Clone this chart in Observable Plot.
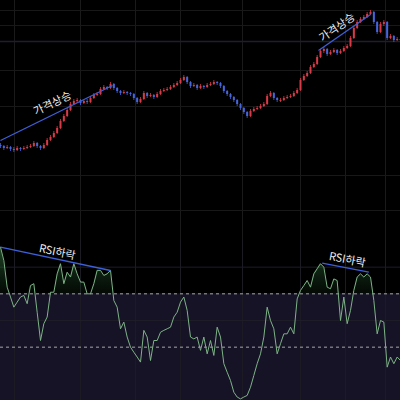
<!DOCTYPE html>
<html><head><meta charset="utf-8">
<script src="https://cdn.jsdelivr.net/npm/d3@7"></script>
<script src="https://cdn.jsdelivr.net/npm/@observablehq/plot@0.6"></script>
<style>
html,body{margin:0;padding:0;background:#000;}
#chart{width:400px;height:400px;overflow:hidden;background:#000}
#chart svg{display:block}
</style></head><body><div id="chart"></div>
<script>
// ---- price candles (bar index 0..120) ----
const openP  = [55,54,52,53,51,50,52,51,52,53,54,57,54,52,55,60,63,67,72,79,84,90,96,99,100,97,99,98,102,105,106,111,113,112,116,112,109,107,108,107,106,102,98,101,107,104,105,103,106,109,110,111,113,115,117,120,123,118,114,115,112,114,113,115,116,118,117,114,109,106,103,100,96,92,88,84,89,91,92,94,96,104,107,102,99,100,102,103,104,107,110,120,124,127,133,136,143,149,151,146,148,150,147,149,152,154,162,172,178,181,183,186,188,178,168,176,178,162,164,160,161];
const closeP = [54,52,53,51,50,52,51,52,53,54,57,54,52,55,60,63,67,72,79,84,90,96,99,100,97,99,98,102,105,106,111,113,112,116,112,109,107,108,107,106,102,98,101,107,104,105,103,106,109,110,111,113,115,117,120,123,118,114,115,112,114,113,115,116,118,117,114,109,106,103,100,96,92,88,84,89,91,92,94,96,104,107,102,100,100,102,103,104,107,110,120,124,127,133,136,143,149,151,146,148,150,147,149,152,154,162,172,178,181,183,186,188,178,168,176,178,162,164,160,161,160];
const highP  = [57,55,55,54,53,54,53,54,55,56,59,58,55,57,62,65,69,74,81,86,92,98,101,102,101,100,101,104,107,108,113,115,114,118,117,113,110,110,109,108,107,103,103,109,108,107,106,108,111,112,113,115,117,119,122,125,124,119,117,116,116,115,117,118,120,119,118,115,110,107,104,101,97,93,89,91,93,94,96,98,106,109,108,103,102,104,105,106,109,112,122,126,129,135,138,145,151,153,152,150,152,151,151,154,156,164,174,180,183,185,188,190,189,179,178,180,179,166,165,163,162];
const lowP   = [52,50,51,49,48,49,49,50,51,52,53,52,50,51,54,59,62,66,71,78,83,89,95,97,95,96,96,97,101,104,105,110,110,111,110,107,105,106,105,104,100,96,97,100,102,103,101,102,105,108,109,110,112,114,116,119,116,112,113,110,111,111,112,114,115,115,112,107,104,101,98,94,90,86,82,83,88,90,91,93,95,103,100,98,98,99,101,102,103,106,109,119,123,126,132,135,142,147,144,145,147,145,146,148,151,153,161,171,177,180,182,185,176,166,167,174,160,161,158,159,158];

// ---- RSI (bar index 0..120) ----
const rsiVals = [87.5,82.5,72.5,68.8,65,66.9,68.8,69.4,66.3,73.1,73.8,63.1,52.5,58.8,61.3,70.6,70.6,77.5,81.3,73.8,78.1,76.3,81.3,77.5,74.4,74.4,70,70,73.8,78.8,78.8,76.9,77.5,78.8,67.5,65,56.9,59.4,53.8,50,48.1,46.3,44.4,56.3,53.8,45,52.5,52.5,55.6,56.3,56.9,57.5,61.3,63.1,66.9,68.8,63.8,53.8,53.1,53.8,48.8,53.8,47.5,52.5,46.9,57.5,53.8,43.8,40.6,37.5,33.1,31.3,30.6,31.3,31.9,35,39.4,43.8,47.5,53.8,65,60,56.9,47.5,51.3,55,55,57.5,55,68.1,71.3,73.1,75,72.5,77.5,79.4,81.3,80,72.5,71.9,75.6,75,60,68.8,58.8,63.8,71.3,76.3,77.5,76.3,77.5,76.3,67.5,55,60,59.4,42.5,46.3,43.8,46.3,45];
const rsiLevels = [70, 50];
const rsiGridSolid = [80, 60];

// ---- grid ----
const gridX = [4.2, 24, 40.5, 54, 72.6, 90, 103.5, 115.5];
const priceGridY = [190, 175, 130, 94, 25, -10];
const priceGridAccent = [159];

// ---- annotations ----
const priceTrendLabels = ["가격상승", "가격상승"];
const priceTrendX1 = [0, 95.4], priceTrendY1 = [60, 150];
const priceTrendX2 = [33.6, 111], priceTrendY2 = [115, 186];
const priceTextX = [15.6, 101], priceTextY = [97, 173], priceTextRot = [-26, -35];

const rsiTrendLabels = ["RSI하락", "RSI하락"];
const rsiTrendX1 = [0, 96.5], rsiTrendY1 = [87.5, 81.5];
const rsiTrendX2 = [33, 110.5], rsiTrendY2 = [78.75, 78.1];
const rsiTextX = [17, 104], rsiTextY = [85.6, 82.75], rsiTextRot = [12, 11];

// build tables
const bars = closeP.map((c, i) => ({i, open: openP[i], close: c, high: highP[i], low: lowP[i]}));
const rsi = rsiVals.map((v, i) => ({i, v}));
const priceTrend = priceTrendLabels.map((t, k) => ({t, x1: priceTrendX1[k], y1: priceTrendY1[k], x2: priceTrendX2[k], y2: priceTrendY2[k], tx: priceTextX[k], ty: priceTextY[k], r: priceTextRot[k]}));
const rsiTrend = rsiTrendLabels.map((t, k) => ({t, x1: rsiTrendX1[k], y1: rsiTrendY1[k], x2: rsiTrendX2[k], y2: rsiTrendY2[k], tx: rsiTextX[k], ty: rsiTextY[k], r: rsiTextRot[k]}));

const UP = "#d83a47", DOWN = "#4666de", TREND = "#3d5fd8";
const FONT = "'Noto Sans CJK KR', 'Noto Sans', sans-serif";
const xScale = {domain: [0, 120], axis: null};
const common = {width: 400, marginLeft: 0, marginRight: 0, marginTop: 0, marginBottom: 0,
  style: {background: "#000", color: "#fff", overflow: "visible"}};

const pricePlot = Plot.plot({
  ...common, height: 240,
  x: xScale,
  y: {domain: [-40, 200], axis: null},
  color: {type: "identity"},
  marks: [
    Plot.ruleX(gridX, {stroke: "#1a1a1a", strokeWidth: 1}),
    Plot.ruleY(priceGridY, {stroke: "#181818", strokeWidth: 1}),
    Plot.ruleY(priceGridAccent, {stroke: "#1d1d33", strokeWidth: 1.5}),
    Plot.ruleX(bars, {x: "i", y1: "low", y2: "high", stroke: d => d.close >= d.open ? UP : DOWN, strokeWidth: 0.8}),
    Plot.ruleX(bars, {x: "i", y1: "open", y2: "close", stroke: d => d.close >= d.open ? UP : DOWN, strokeWidth: 2}),
    Plot.link(priceTrend, {x1: "x1", y1: "y1", x2: "x2", y2: "y2", stroke: TREND, strokeWidth: 1.3}),
    Plot.text(priceTrend, {x: "tx", y: "ty", text: "t", rotate: "r", fill: "#ededed", fontSize: 11, fontFamily: FONT})
  ]
});

const rsiPlot = Plot.plot({
  ...common, height: 160,
  x: xScale,
  y: {domain: [30, 90], axis: null},
  color: {type: "identity"},
  marks: [
    Plot.areaY(rsi, {x: "i", y1: 30, y2: 70, fill: "#171326"}),
    Plot.ruleX(gridX, {stroke: "#1c1a22", strokeWidth: 1}),
    Plot.ruleY(rsiGridSolid, {stroke: "#1e1c26", strokeWidth: 1}),
    Plot.ruleY(rsiLevels, {stroke: "#a8a8a8", strokeWidth: 1, strokeDasharray: "3,3"}),
    Plot.areaY(rsi, {x: "i", y1: 70, y2: d => Math.max(d.v, 70), fill: "url(#rsiGlow)"}),
    Plot.lineY(rsi, {x: "i", y: "v", stroke: "#7db386", strokeWidth: 1}),
    Plot.link(rsiTrend, {x1: "x1", y1: "y1", x2: "x2", y2: "y2", stroke: TREND, strokeWidth: 1.3}),
    Plot.text(rsiTrend, {x: "tx", y: "ty", text: "t", rotate: "r", fill: "#ededed", fontSize: 11, fontFamily: FONT})
  ]
});

// gradient for overbought glow
const ns = "http://www.w3.org/2000/svg";
const defs = document.createElementNS(ns, "defs");
const y70 = 160 * (90 - 70) / 60;
defs.innerHTML = `<linearGradient id="rsiGlow" gradientUnits="userSpaceOnUse" x1="0" y1="0" x2="0" y2="${y70}">
  <stop offset="0" stop-color="#3a8046" stop-opacity="0.7"/>
  <stop offset="1" stop-color="#1b4222" stop-opacity="0.15"/>
</linearGradient>`;
rsiPlot.insertBefore(defs, rsiPlot.firstChild);

const chart = document.getElementById("chart");
chart.appendChild(pricePlot);
chart.appendChild(rsiPlot);
</script></body></html>
